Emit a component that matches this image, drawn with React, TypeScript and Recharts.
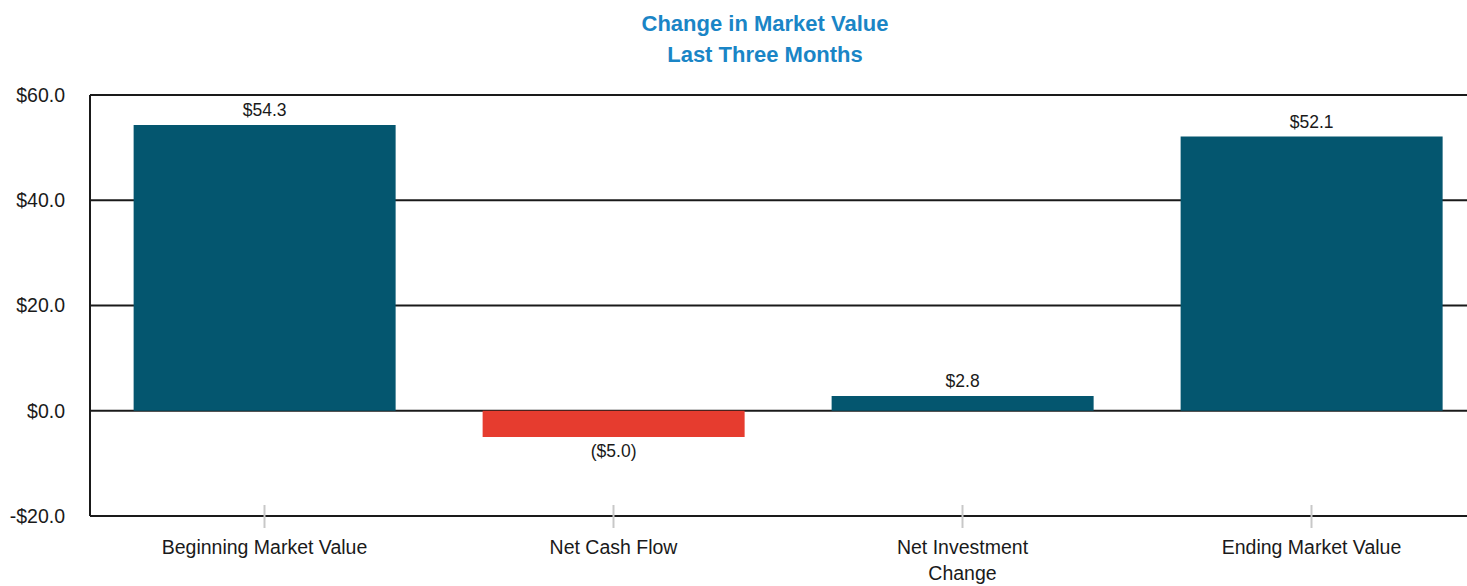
import React from "react";
import { BarChart, Bar, XAxis, YAxis, CartesianGrid, Cell, LabelList } from "recharts";

const categories = ["Beginning Market Value", "Net Cash Flow", "Net Investment Change", "Ending Market Value"];
const tickLines = [["Beginning Market Value"], ["Net Cash Flow"], ["Net Investment", "Change"], ["Ending Market Value"]];
const values = [54.3, -5.0, 2.8, 52.1];
const yTicks = [-20, 0, 20, 40, 60];

const data = categories.map((name, i) => ({ name, value: values[i], lines: tickLines[i] }));

const FONT = "'Liberation Sans', Arial, sans-serif";
const TEXT = "#1a1a1a";
const TEAL = "#04566f";
const RED = "#e63c2f";

const money = (v: number) => (v < 0 ? `($${Math.abs(v).toFixed(1)})` : `$${v.toFixed(1)}`);
const axisMoney = (v: number) => (v < 0 ? `-$${Math.abs(v).toFixed(1)}` : `$${v.toFixed(1)}`);

function XTick(props: any) {
  const { x, y, index } = props;
  const lines = tickLines[index] || [];
  return (
    <g>
      <line x1={x} x2={x} y1={y - 11} y2={y + 12} stroke="#c8c8c8" strokeWidth={2} />
      {lines.map((l, i) => (
        <text key={i} x={x} y={y + 38 + i * 26} textAnchor="middle" fill={TEXT} fontSize={19.5} fontFamily={FONT}>
          {l}
        </text>
      ))}
    </g>
  );
}

function ValueLabel(props: any) {
  const { x, y, width, height, value } = props;
  const top = Math.min(y, y + height);
  const bottom = Math.max(y, y + height);
  const cx = x + width / 2;
  const neg = value < 0;
  return (
    <text x={cx} y={neg ? bottom + 20 : top - 9} textAnchor="middle" fill={TEXT} fontSize={17.5} fontFamily={FONT}>
      {money(value)}
    </text>
  );
}

export default function App() {
  return (
    <div style={{ position: "absolute", left: 0, top: 0, width: 1467, height: 586, overflow: "hidden", background: "#fff" }}>
      <div
        style={{
          position: "absolute",
          left: 365,
          top: 8,
          width: 800,
          textAlign: "center",
          color: "#1a85c6",
          fontFamily: FONT,
          fontWeight: "bold",
          fontSize: 22,
          lineHeight: "31px",
        }}
      >
        Change in Market Value
        <br />
        Last Three Months
      </div>
      <BarChart
        width={1490}
        height={586}
        data={data}
        margin={{ top: 95, right: 4, bottom: 0, left: 0 }}
        barCategoryGap="12.5%"
      >
        <CartesianGrid vertical={false} stroke={TEXT} strokeWidth={2} />
        <XAxis
          dataKey="name"
          height={70}
          tickSize={0}
          tickMargin={0}
          tickLine={false}
          axisLine={{ stroke: TEXT, strokeWidth: 2 }}
          interval={0}
          tick={<XTick />}
        />
        <YAxis
          width={90}
          domain={[-20, 60]}
          ticks={yTicks}
          tickFormatter={axisMoney}
          tickSize={0}
          tickMargin={25}
          tickLine={false}
          axisLine={{ stroke: TEXT, strokeWidth: 2 }}
          tick={{ fill: TEXT, fontSize: 19.5, fontFamily: FONT }}
          interval={0}
        />
        <Bar dataKey="value" isAnimationActive={false}>
          {data.map((d, i) => (
            <Cell key={i} fill={d.value < 0 ? RED : TEAL} />
          ))}
          <LabelList dataKey="value" content={<ValueLabel />} />
        </Bar>
      </BarChart>
    </div>
  );
}
